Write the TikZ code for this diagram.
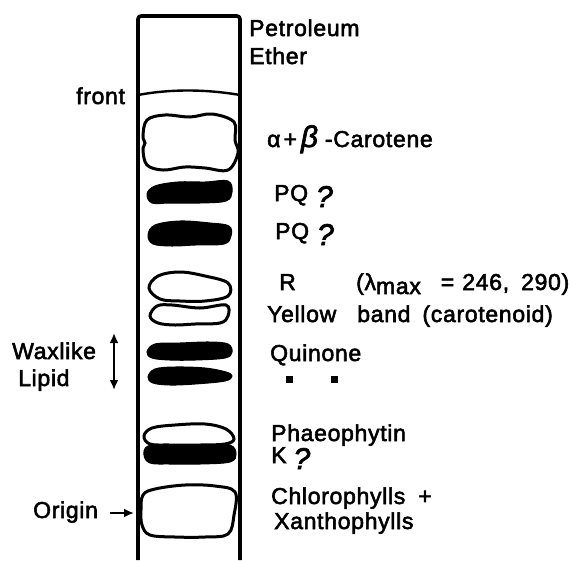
\documentclass[tikz,border=0pt]{standalone}
\usepackage{fontspec}
\setmainfont[LetterSpace=3,FakeBold=2.4]{Liberation Sans}
\usetikzlibrary{arrows.meta,calc}
\tikzset{
  lbl/.style={anchor=base west, inner sep=0pt, font=\fontsize{23}{23}\selectfont},
  tube/.style={line width=3.6pt, line join=round},
  bandopen/.style={line width=3pt, fill=white},
  bandfull/.style={line width=1pt, fill=black},
  arr/.style={line width=2.4pt, -{Latex[length=10pt,width=9pt]}},
  spot/.style={fill=black, minimum size=7pt, inner sep=0pt}}
\newcommand{\query}{\raisebox{-6pt}{\textit{\fontsize{30}{30}\selectfont ?}}}
\begin{document}
\begin{tikzpicture}[x=1pt, y=-1pt]
\useasboundingbox (0,0) rectangle (572,560);
% plate
\draw[tube, rounded corners=3pt] (138,560) -- (138,16) -- (240,16) -- (240,560);
\draw[line width=2.4pt] (138,95) .. controls (170,89) and (205,89) .. (240,95);
% open and dark bands
\draw[bandopen] plot[smooth cycle, tension=0.6] coordinates {(143,136) (147,120) (165,115) (190,117) (212,114) (234,122) (235,140) (238,153) (228,170) (205,168) (185,167) (163,170) (147,165) (143,150) (145,143)};
\draw[bandfull] plot[smooth cycle, tension=0.6] coordinates {(147,194) (155,186) (178,182) (205,182) (228,181) (232,192) (226,201) (200,203) (170,203) (152,203)};
\draw[bandfull] plot[smooth cycle, tension=0.6] coordinates {(148,235) (155,225) (180,221) (210,223) (229,226) (231,236) (224,244) (195,245) (172,246) (153,244)};
\draw[bandopen] plot[smooth cycle, tension=0.6] coordinates {(149,288) (158,276) (180,272) (205,276) (228,283) (228,296) (205,301) (180,301) (160,299)};
\draw[bandopen] plot[smooth cycle, tension=0.6] coordinates {(150,316) (157,306) (172,305) (200,308) (226,305) (228,316) (220,323) (195,324) (175,325) (158,323)};
\draw[bandfull] plot[smooth cycle, tension=0.6] coordinates {(147,352) (155,344) (180,343) (210,342) (228,344) (232,352) (225,358) (195,360) (170,360) (152,358)};
\draw[bandfull] plot[smooth cycle, tension=0.6] coordinates {(148,377) (155,369) (175,367) (205,368) (226,372) (232,376) (225,381) (195,384) (170,385) (153,383)};
\draw[bandfull] plot[smooth cycle, tension=0.6] coordinates {(144,455) (148,446) (170,444) (205,444) (230,445) (236,454) (230,462) (200,464) (170,464) (150,463)};
\draw[bandopen] plot[smooth cycle, tension=0.6] coordinates {(144,436) (152,428) (175,425) (205,424) (226,429) (234,439) (225,444) (200,445) (170,445) (150,444)};
\draw[bandopen] plot[smooth cycle, tension=0.6] coordinates {(143,495) (155,489) (185,485) (215,486) (235,492) (234,515) (228,534) (205,537) (175,537) (150,535) (142,525) (141,510)};
% labels
\node[lbl] (petrol) at (249,36) {Petroleum};
\node[lbl] (ether) at (249,64) {Ether};
\node[lbl] (front) at (76,104) {front};
\node[lbl] (carot) at (267,147) {α\hspace{3pt}+\hspace{4pt}\textit{\fontsize{30}{30}\selectfont β}\hspace{6pt}-Carotene};
\node[lbl] (pqa) at (274,201) {PQ\hspace{8pt}\query};
\node[lbl] (pqb) at (275,239) {PQ\hspace{8pt}\query};
\node[lbl] (rband) at (279,290) {R};
\node[lbl] (lmax) at (356,290) {(λ\raisebox{-4pt}{max}\hspace{20pt}=\hspace{8pt}246,\hspace{12pt}290)};
\node[lbl] (yellow) at (267,322) {Yellow\hspace{21pt}band\hspace{12pt}(carotenoid)};
\node[lbl] (quin) at (270,361) {Quinone};
\node[spot] (spa) at (289,379) {};
\node[spot] (spb) at (334,379) {};
\node[lbl] (phaeo) at (271,441) {Phaeophytin};
\node[lbl] (kq) at (271,463) {K\hspace{7pt}\query};
\node[lbl] (chloro) at (271,504) {Chlorophylls\hspace{13pt}+};
\node[lbl] (xanth) at (274,529) {Xanthophylls};
\node[lbl] (wax) at (12,359) {Waxlike};
\node[lbl] (lipid) at (18,386) {Lipid};
\node[lbl] (origin) at (33,518) {Origin};
% arrows
\coordinate (waxtop) at (114,333);
\coordinate (waxbot) at (114,390);
\coordinate (origtip) at (134,513);
\coordinate (origtail) at (110,513);
\draw[arr, {Latex[length=10pt,width=9pt]}-{Latex[length=10pt,width=9pt]}] (waxtop) -- (waxbot);
\draw[arr] (origtail) -- (origtip);
\end{tikzpicture}
\end{document}
